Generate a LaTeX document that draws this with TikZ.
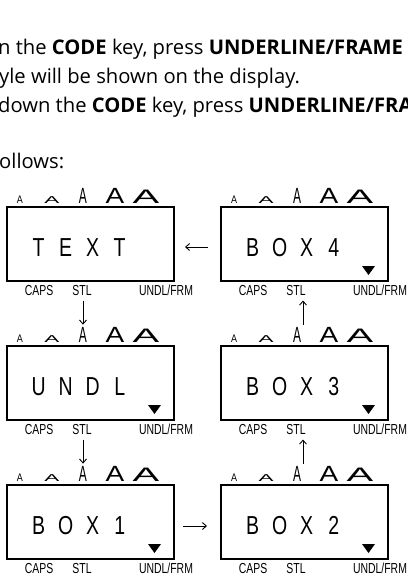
\documentclass[tikz,border=0pt]{standalone}
\usepackage{fontspec}
\setmainfont{Open Sans}
\newfontfamily\lcdfont[FakeStretch=0.75]{Liberation Sans}
\newfontfamily\lblfont[FakeStretch=0.72]{Liberation Sans}
\newfontfamily\afont{Liberation Sans}
\usetikzlibrary{arrows.meta,calc}
\newcommand\lc[1]{\makebox[27pt]{#1}}
\tikzset{
  x=1pt, y=-1pt,
  body/.style={inner sep=0pt, anchor=base west, font=\fontsize{20.2}{20.2}\selectfont},
  dispbox/.style={draw, line width=2.2pt, minimum width=167pt, minimum height=74pt,
    inner sep=0pt, outer sep=0pt, anchor=north west},
  lcdtext/.style={inner sep=0pt, anchor=base west, font=\lcdfont\fontsize{26}{26}\selectfont},
  lbl/.style={inner sep=0pt, anchor=base, font=\lblfont\fontsize{14.5}{14.5}\selectfont},
  asz/.style={inner sep=0pt, anchor=base, font=\afont\fontsize{10}{10}\selectfont},
  arr/.style={-{Straight Barb[length=4pt,width=7pt]}, line width=0.9pt},
}
\newcommand\panel[4]{%
  \node[dispbox] (#1) at (#2,#3) {};
  \node[lcdtext] (#1-txt) at ($(#1.north west)+(18,49)$) {#4};
  \node[lbl] (#1-caps) at ($(#1.south west)+(32,14.5)$) {CAPS};
  \node[lbl] (#1-stl) at ($(#1.south west)+(75,14.5)$) {STL};
  \node[lbl] (#1-undl) at ($(#1.south west)+(159,14.5)$) {UNDL/FRM};
  \node[asz] (#1-a1) at ($(#1.north west)+(13,-4)$) {\scalebox{0.9}[1.1]{A}};
  \node[asz] (#1-a2) at ($(#1.north west)+(45,-4)$) {\scalebox{2.25}[1.0]{A}};
  \node[asz] (#1-a3) at ($(#1.north west)+(76,-4)$) {\scalebox{1.2}[2.2]{A}};
  \node[asz] (#1-a4) at ($(#1.north west)+(108,-4)$) {\scalebox{2.8}[2.2]{A}};
  \node[asz] (#1-a5) at ($(#1.north west)+(139,-4)$) {\scalebox{4.0}[1.95]{A}};
}
\newcommand\marker[1]{%
  \fill ($(#1.south east)+(-26,-15)$) -- ($(#1.south east)+(-13,-15)$)
        -- ($(#1.south east)+(-19.5,-6)$) -- cycle;
}
\begin{document}
\begin{tikzpicture}
\useasboundingbox (0,0) rectangle (407,578);
\clip (0,0) rectangle (407,578);
\fill[white] (0,0) rectangle (407,578);

\node[body] (l1) at (-2,55) {n the \textbf{CODE} key, press \textbf{UNDERLINE/FRAME}};
\node[body] (l2) at (-1,83.5) {yle will be shown on the display.};
\node[body] (l3) at (-2,112.5) {down the \textbf{CODE} key, press \textbf{UNDERLINE/FRA}};
\node[body] (l4) at (-1,168) {ollows:};

\panel{text}{7}{207}{\lc{T}\lc{E}\lc{X}\lc{T}}
\panel{box4}{221}{207}{\lc{B}\lc{O}\lc{X}\lc{4}}
\panel{undl}{7}{346}{\lc{U}\lc{N}\lc{D}\lc{L}}
\panel{box3}{221}{346}{\lc{B}\lc{O}\lc{X}\lc{3}}
\panel{box1}{7}{485}{\lc{B}\lc{O}\lc{X}\lc{1}}
\panel{box2}{221}{485}{\lc{B}\lc{O}\lc{X}\lc{2}}
\marker{box4}
\marker{undl}
\marker{box3}
\marker{box1}
\marker{box2}

% horizontal arrows
\draw[arr, shorten <=13pt, shorten >=11pt] ([yshift=-3pt]box4.west) -- ([yshift=-3pt]text.east);
\draw[arr, shorten <=9pt, shorten >=14pt] ([yshift=-4pt]box1.east) -- ([yshift=-4pt]box2.west);

% down arrows, left column
\draw[arr, shorten <=5pt, shorten >=2pt] (text-stl.base -| undl-a3.north) -- (undl-a3.north);
\draw[arr, shorten <=5pt, shorten >=2pt] (undl-stl.base -| box1-a3.north) -- (box1-a3.north);

% up arrows, right column
\coordinate (up2) at ($(box2-a3.north)+(6,0)$);
\coordinate (up3) at ($(box3-a3.north)+(6,0)$);
\draw[arr, shorten <=2pt, shorten >=5pt] (up2) -- (up2 |- box3-stl.base);
\draw[arr, shorten <=2pt, shorten >=5pt] (up3) -- (up3 |- box4-stl.base);
\end{tikzpicture}
\end{document}
